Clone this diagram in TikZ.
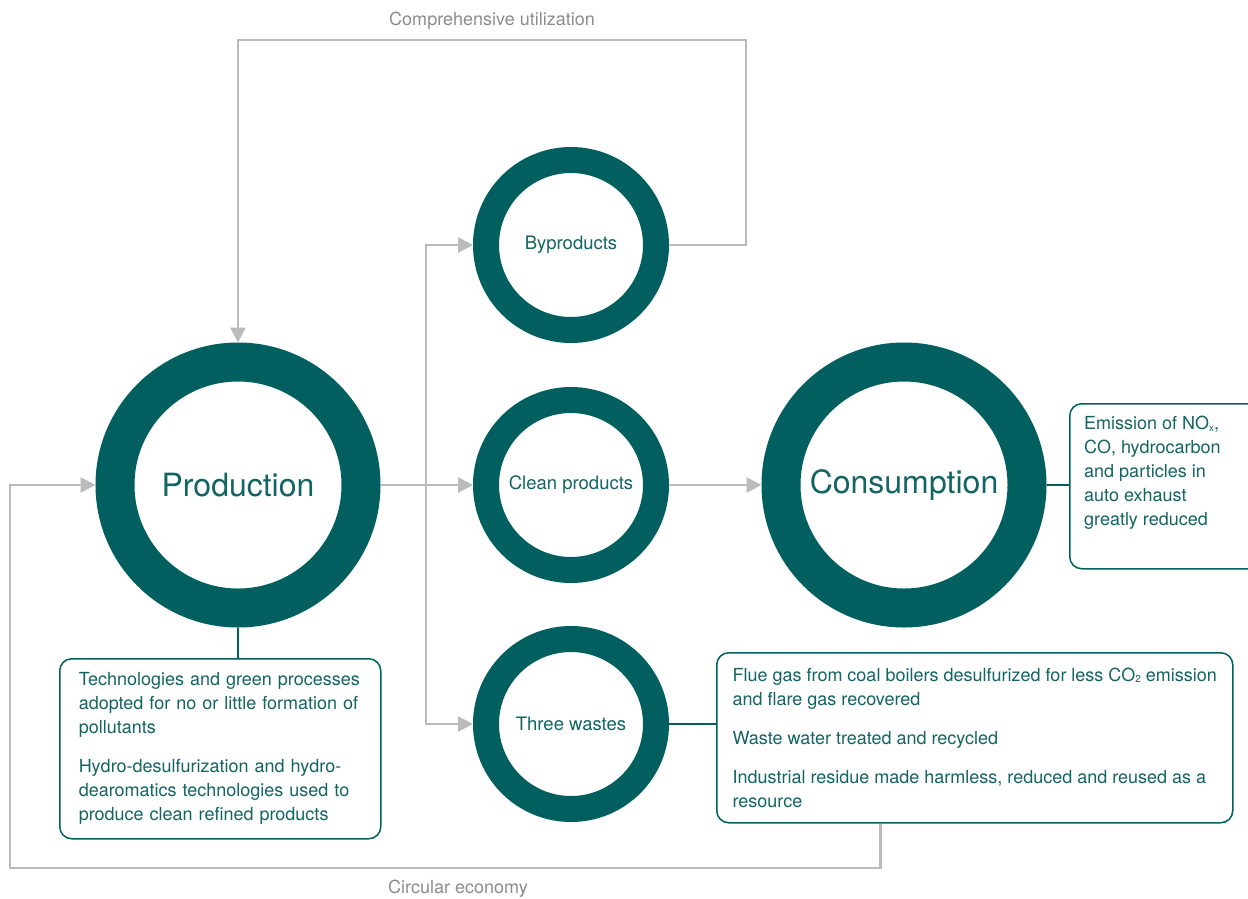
\documentclass[tikz,border=0pt]{standalone}
\usepackage{fontspec}
\setmainfont{TeX Gyre Heros}
\usetikzlibrary{arrows.meta, positioning, calc}
\definecolor{myteal}{RGB}{2, 95, 95}
\definecolor{mytext}{RGB}{20, 100, 100}
\definecolor{mygray}{RGB}{187, 187, 187}
\definecolor{mygraytext}{RGB}{140, 140, 140}
\tikzset{>={Triangle[length=15pt, width=15pt]}}
\newcommand{\lowsub}[1]{\raisebox{-1.5pt}{\fontsize{10}{10}\selectfont #1}}

\begin{document}
\begin{tikzpicture}[x = 1pt, y = -1pt,
  ring/.style = {circle, draw = myteal, text = mytext, inner sep = 0},
  bigring/.style = {ring, line width = 39, minimum size = 246, font = \fontsize{32}{36}\selectfont},
  smallring/.style = {ring, line width = 26, minimum size = 170, font = \fontsize{18.5}{22}\selectfont},
  flow/.style = {draw = mygray, line width = 2.8},
  tie/.style = {draw = myteal, line width = 1.5},
  notebox/.style = {draw = myteal, line width = 1.5, rounded corners = 12, text = mytext, align = left, font = \fontsize{18}{24}\selectfont},
  flowlabel/.style = {text = mygraytext, font = \fontsize{18}{22}\selectfont}]
\path[use as bounding box, fill = white] (0, 0) rectangle (1248, 898);

% circles
\node[bigring] (prod) at (238, 485) {Production};
\node[smallring] (byp) at (571, 245) {Byproducts};
\node[smallring] (clean) at (571, 485) {Clean products};
\node[smallring] (waste) at (571, 724) {Three wastes};
\node[bigring] (cons) at (904, 485) {Consumption};

% notes
\node[notebox, anchor = north west, text width = 283, minimum height = 180, inner xsep = 19] (techbox) at (59, 658)
{Technologies and green processes\\ adopted for no or little formation of\\ pollutants\\[15pt]
Hydro-desulfurization and hydro-\\ dearomatics technologies used to\\ produce clean refined products};
\node[notebox, anchor = north west, minimum width = 516, minimum height = 170, inner xsep = 15] (wastebox) at (716, 652)
{Flue gas from coal boilers desulfurized for less CO\lowsub{2} emission\\ and flare gas recovered\\[15pt]
Waste water treated and recycled\\[15pt]
Industrial residue made harmless, reduced and reused as a\\ resource};
\node[notebox, anchor = north west, minimum width = 200, minimum height = 165] (consbox) at (1069, 403) {};
\node[anchor = north west, inner sep = 0, text = mytext, align = left, font = \fontsize{18}{24}\selectfont] (consnote)
  at ([xshift = 15, yshift = -13]consbox.north west)
{Emission of NO\lowsub{x},\\ CO, hydrocarbon\\ and particles in\\ auto exhaust\\ greatly reduced};

% flows
\coordinate (split) at (426, 485);
\draw[flow] (prod.east) -- (split);
\draw[flow, ->] (split) -- (clean.west);
\draw[flow, ->] (split) |- (byp.west);
\draw[flow, ->] (split) |- (waste.west);
\draw[flow, ->] (clean.east) -- (cons.west);
\coordinate (reuse) at (746, 40);
\draw[flow, ->] (byp.east) -| (reuse) -| (prod.north);
\coordinate (loop) at (10, 868);
\draw[flow, ->] ([xshift = -94]wastebox.south) |- (loop) |- (prod.west);
\node[flowlabel] (utillabel) at (492, 21) {Comprehensive utilization};
\node[flowlabel] (circlabel) at (458, 889) {Circular economy};

\draw[tie] (prod.south) -- (prod.south |- techbox.north);
\draw[tie] (waste.east) -- (waste.east -| wastebox.west);
\draw[tie] (cons.east) -- (cons.east -| consbox.west);
\end{tikzpicture}
\end{document}
